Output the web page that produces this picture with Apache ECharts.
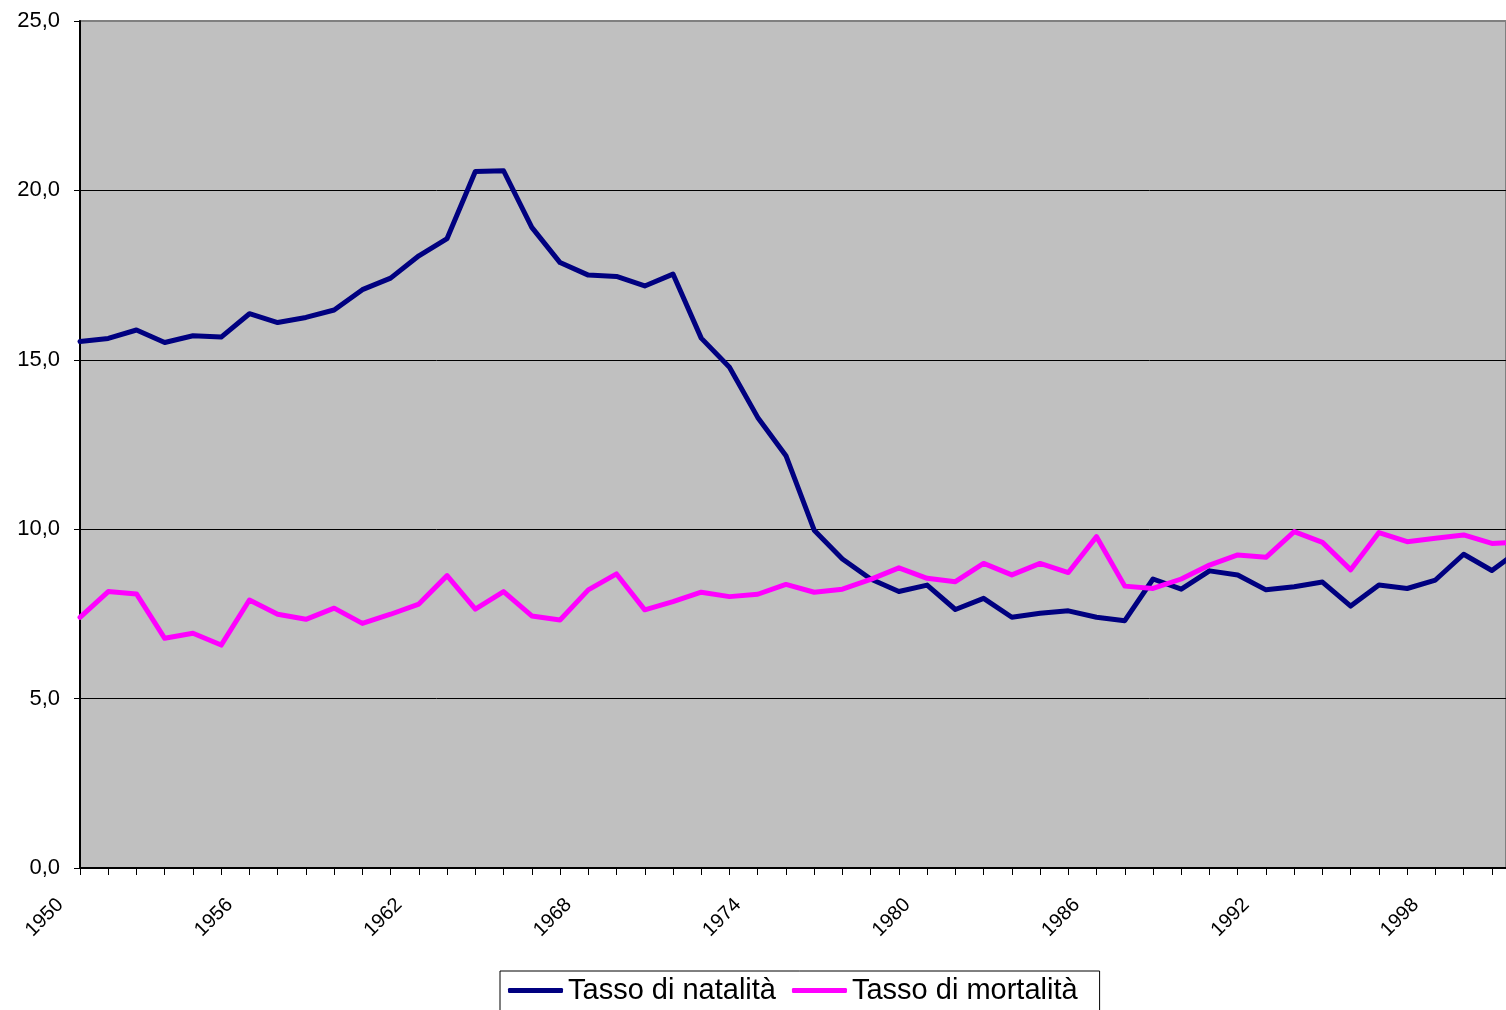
<!DOCTYPE html>
<html>
<head>
<meta charset="utf-8">
<script src="https://cdn.jsdelivr.net/npm/echarts@6/dist/echarts.min.js"></script>
<style>
html,body{margin:0;padding:0;background:#fff;}
#chart{width:1506px;height:1010px;}
</style>
</head>
<body>
<div id="chart"></div>
<script>
var years = [];
for (var y = 1950; y <= 2001; y++) years.push(y);

var natalita = [
  15.54, 15.63, 15.88, 15.51, 15.71, 15.67, 16.36, 16.10, 16.25, 16.47,
  17.07, 17.41, 18.07, 18.58, 20.56, 20.58, 18.91, 17.87, 17.50, 17.46,
  17.18, 17.53, 15.64, 14.78, 13.30, 12.17, 9.97, 9.12, 8.53, 8.16,
  8.35, 7.63, 7.96, 7.40, 7.52, 7.59, 7.40, 7.30, 8.53, 8.23,
  8.77, 8.65, 8.21, 8.30, 8.44, 7.73, 8.35, 8.25, 8.50, 9.26,
  8.78, 9.40
];

var mortalita = [
  7.40, 8.16, 8.09, 6.78, 6.93, 6.58, 7.91, 7.49, 7.34, 7.67,
  7.22, 7.49, 7.79, 8.63, 7.64, 8.16, 7.44, 7.32, 8.21, 8.68,
  7.62, 7.86, 8.14, 8.01, 8.08, 8.37, 8.14, 8.23, 8.52, 8.86,
  8.55, 8.45, 8.99, 8.65, 8.99, 8.72, 9.78, 8.32, 8.25, 8.53,
  8.94, 9.24, 9.17, 9.93, 9.61, 8.80, 9.90, 9.63, 9.73, 9.83,
  9.58, 9.62
];

var seriesNames = ['Tasso di natalità', 'Tasso di mortalità'];
var yTicks = { min: 0, max: 25, interval: 5 };
var xRange = { min: 1950, max: 2000.5, labelStep: 6 };

function pairs(vals) {
  return years.map(function (yr, i) { return [yr, vals[i]]; });
}

var chart = echarts.init(document.getElementById('chart'), null, { renderer: 'canvas' });
var font = 'Arial, "Liberation Sans", sans-serif';

chart.setOption({
  animation: false,
  backgroundColor: '#ffffff',
  grid: {
    left: 80, top: 21, right: 0, bottom: 142,
    show: true, backgroundColor: '#C0C0C0',
    borderColor: '#808080', borderWidth: 2
  },
  legend: {
    left: 500, top: 971,
    padding: [5, 22, 20, 8],
    borderColor: '#000', borderWidth: 1,
    backgroundColor: '#fff',
    itemWidth: 55, itemHeight: 5, itemGap: 16,
    icon: 'roundRect',
    textStyle: { fontSize: 29, color: '#000', fontFamily: font, lineHeight: 29 },
    data: seriesNames
  },
  xAxis: {
    type: 'value',
    min: xRange.min, max: xRange.max, interval: 1,
    axisLine: { onZero: false, lineStyle: { color: '#000', width: 2 } },
    axisTick: { show: true, length: 7, lineStyle: { color: '#000', width: 1 } },
    axisLabel: {
      rotate: 45, margin: 14,
      padding: [0, 28, 0, 0],
      showMinLabel: true, showMaxLabel: false,
      fontSize: 20, color: '#000', fontFamily: font,
      formatter: function (v) {
        if (Math.abs(v - Math.round(v)) > 1e-6) return '';
        return ((Math.round(v) - xRange.min) % xRange.labelStep === 0) ? String(Math.round(v)) : '';
      }
    },
    splitLine: { show: false }
  },
  yAxis: {
    type: 'value',
    min: yTicks.min, max: yTicks.max, interval: yTicks.interval,
    axisLine: { show: true, lineStyle: { color: '#000', width: 2 } },
    axisTick: { show: true, length: 6, lineStyle: { color: '#000', width: 1 } },
    axisLabel: {
      margin: 20, fontSize: 22, color: '#000', fontFamily: font,
      formatter: function (v) { return v.toFixed(1).replace('.', ','); }
    },
    splitLine: { show: true, lineStyle: { color: ['#000', '#000', '#000', '#000', '#000', '#808080'], width: 1 } }
  },
  series: [
    {
      name: seriesNames[0], type: 'line', data: pairs(natalita),
      symbol: 'none', color: '#000080', clip: true,
      lineStyle: { color: '#000080', width: 5, cap: 'round', join: 'round' }
    },
    {
      name: seriesNames[1], type: 'line', data: pairs(mortalita),
      symbol: 'none', color: '#FF00FF', clip: true,
      lineStyle: { color: '#FF00FF', width: 5, cap: 'round', join: 'round' }
    }
  ]
});
</script>
</body>
</html>
